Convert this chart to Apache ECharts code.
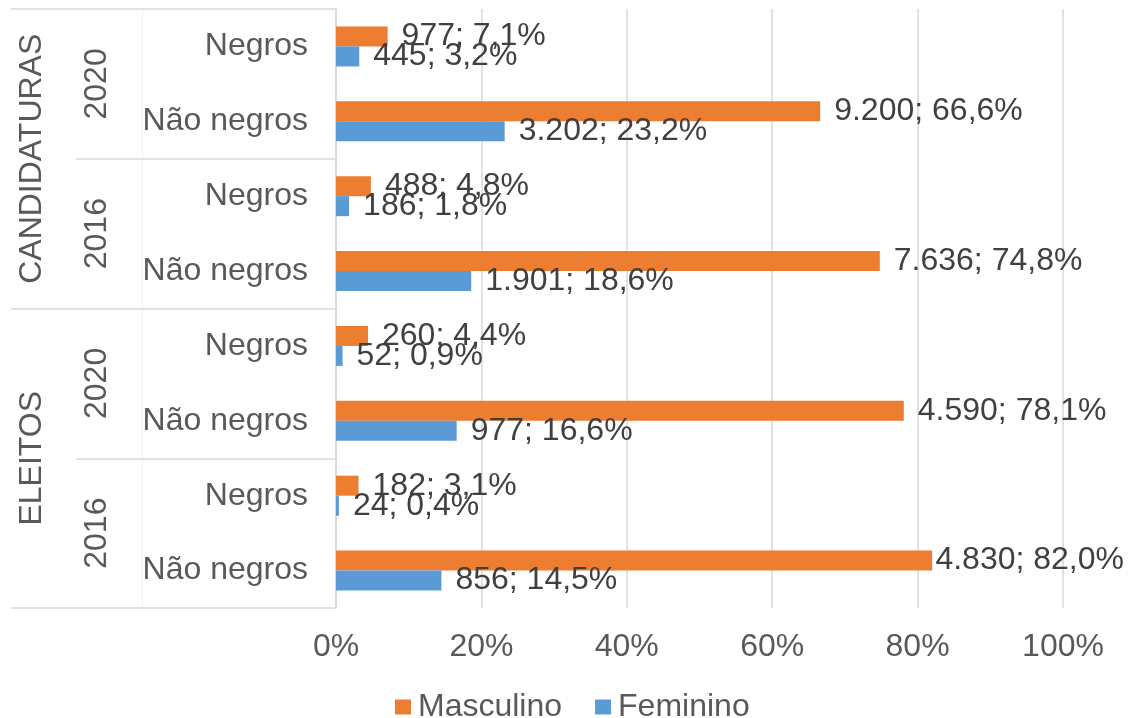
<!DOCTYPE html>
<html>
<head>
<meta charset="utf-8">
<script src="https://cdn.jsdelivr.net/npm/echarts@6/dist/echarts.min.js"></script>
<style>
  html, body { margin: 0; padding: 0; background: #fff; }
  #chart { width: 1128px; height: 718px; }
</style>
</head>
<body>
<div id="chart"></div>
<script>
// categorias (de cima para baixo)
const grupos = ['CANDIDATURAS', 'ELEITOS'];
const anos = ['2020', '2016', '2020', '2016'];
const racas = ['Negros', 'Não negros', 'Negros', 'Não negros', 'Negros', 'Não negros', 'Negros', 'Não negros'];

// Masculino
const mascQtd = [977, 9200, 488, 7636, 260, 4590, 182, 4830];
const mascPct = [7.1, 66.6, 4.8, 74.8, 4.4, 78.1, 3.1, 82.0];
// Feminino
const femQtd = [445, 3202, 186, 1901, 52, 977, 24, 856];
const femPct = [3.2, 23.2, 1.8, 18.6, 0.9, 16.6, 0.4, 14.5];

const xTicks = [0, 20, 40, 60, 80, 100];

const fonte = '"Liberation Sans", Arial, sans-serif';
const cinza = '#D9D9D9';
const fs = 32;

function fmtQtd(n) {
  return String(n).replace(/\B(?=(\d{3})+(?!\d))/g, '.');
}
function fmtPct(p) {
  return p.toFixed(1).replace('.', ',') + '%';
}

const chart = echarts.init(document.getElementById('chart'));
const larguraTotal = chart.getWidth();

const labelCfg = function (qtd, pct) {
  return {
    show: true,
    position: 'right',
    distance: 14,
    color: '#404040',
    fontSize: fs,
    fontFamily: fonte,
    formatter: p => fmtQtd(qtd[p.dataIndex]) + '; ' + fmtPct(pct[p.dataIndex])
  };
};

// como no Excel: rótulo que passaria da borda é puxado para dentro
const encaixar = params => {
  const r = params.labelRect;
  const sobra = r.x + r.width - (larguraTotal - 4);
  if (sobra > 0) {
    return { dx: -sobra };
  }
  return {};
};

chart.setOption({
  animation: false,
  textStyle: { fontFamily: fonte },
  grid: { left: 336, right: 65, top: 9, bottom: 110, containLabel: false, outerBoundsMode: 'none' },
  legend: {
    bottom: -10,
    left: 390,
    icon: 'rect',
    itemWidth: 16,
    itemHeight: 15,
    itemGap: 33,
    textStyle: { color: '#595959', fontSize: fs, fontFamily: fonte, padding: [0, 0, 0, 2] },
    data: ['Masculino', 'Feminino']
  },
  xAxis: {
    type: 'value',
    min: 0,
    max: 100,
    interval: 20,
    axisLine: { show: false },
    axisTick: { show: false },
    splitLine: { lineStyle: { color: cinza, width: 1.5 } },
    axisLabel: {
      margin: 23,
      color: '#595959',
      fontSize: fs,
      fontFamily: fonte,
      formatter: v => xTicks.includes(v) ? v + '%' : ''
    }
  },
  yAxis: [
    {
      type: 'category',
      position: 'left',
      inverse: true,
      data: racas,
      axisLine: { show: true, lineStyle: { color: cinza, width: 1.5 } },
      axisTick: { show: false },
      axisLabel: { interval: 0, margin: 28, color: '#595959', fontSize: fs, fontFamily: fonte }
    },
    {
      type: 'category',
      position: 'left',
      offset: 0,
      inverse: true,
      data: anos,
      axisLine: { show: false },
      axisTick: { show: true, interval: 0, length: 260, lineStyle: { color: cinza, width: 1.5 } },
      axisLabel: { interval: 0, rotate: 90, margin: 223, color: '#595959', fontSize: fs, fontFamily: fonte }
    },
    {
      type: 'category',
      position: 'left',
      offset: 0,
      inverse: true,
      data: grupos,
      axisLine: { show: false },
      axisTick: { show: true, interval: 0, length: 325, lineStyle: { color: cinza, width: 1.5 } },
      axisLabel: { interval: 0, hideOverlap: false, rotate: 90, margin: 288, color: '#595959', fontSize: fs, fontFamily: fonte }
    },
    {
      type: 'category',
      position: 'left',
      inverse: true,
      data: racas,
      offset: 194,
      axisLine: { show: true, lineStyle: { color: '#F2F2F2', width: 1 } },
      axisTick: { show: false },
      axisLabel: { show: false }
    }
  ],
  series: [
    {
      name: 'Masculino',
      type: 'bar',
      yAxisIndex: 0,
      barWidth: 20,
      barGap: '0%',
      itemStyle: { color: '#ED7D31' },
      label: labelCfg(mascQtd, mascPct),
      labelLayout: encaixar,
      data: mascPct
    },
    {
      name: 'Feminino',
      type: 'bar',
      yAxisIndex: 0,
      barWidth: 20,
      barGap: '0%',
      itemStyle: { color: '#5B9BD5' },
      label: labelCfg(femQtd, femPct),
      labelLayout: encaixar,
      data: femPct
    }
  ]
});
</script>
</body>
</html>
